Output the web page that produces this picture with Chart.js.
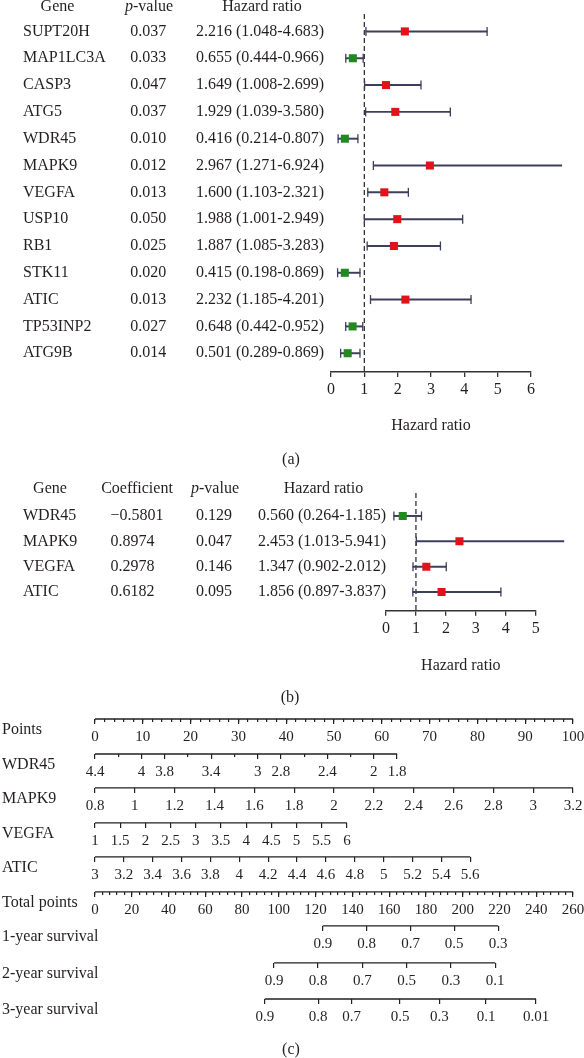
<!DOCTYPE html>
<html>
<head>
<meta charset="utf-8">
<script src="https://cdn.jsdelivr.net/npm/chart.js@4.4.1/dist/chart.umd.min.js"></script>
<style>
  body { margin: 0; background: #fff; }
  #figure { position: relative; width: 584px; height: 1058px; overflow: hidden; }
  #figure canvas { position: absolute; left: 0; }
</style>
</head>
<body>
<div id="figure">
  <canvas id="forestA" width="584" height="475" style="top:0"></canvas>
  <canvas id="forestB" width="584" height="233" style="top:472px"></canvas>
  <canvas id="nomogram" width="584" height="353" style="top:705px"></canvas>
</div>
<script>
// (a) univariate Cox regression
const genesA = ['SUPT20H', 'MAP1LC3A', 'CASP3', 'ATG5', 'WDR45', 'MAPK9', 'VEGFA', 'USP10', 'RB1', 'STK11', 'ATIC', 'TP53INP2', 'ATG9B'];
const pValuesA = ['0.037', '0.033', '0.047', '0.037', '0.010', '0.012', '0.013', '0.050', '0.025', '0.020', '0.013', '0.027', '0.014'];
const hrA = [2.216, 0.655, 1.649, 1.929, 0.416, 2.967, 1.600, 1.988, 1.887, 0.415, 2.232, 0.648, 0.501];
const lowA = [1.048, 0.444, 1.008, 1.039, 0.214, 1.271, 1.103, 1.001, 1.085, 0.198, 1.185, 0.442, 0.289];
const highA = [4.683, 0.966, 2.699, 3.580, 0.807, 6.924, 2.321, 3.95, 3.283, 0.869, 4.201, 0.952, 0.869]; // USP10 whisker as drawn
const hrTextA = ['2.216 (1.048-4.683)', '0.655 (0.444-0.966)', '1.649 (1.008-2.699)', '1.929 (1.039-3.580)',
  '0.416 (0.214-0.807)', '2.967 (1.271-6.924)', '1.600 (1.103-2.321)', '1.988 (1.001-2.949)', '1.887 (1.085-3.283)',
  '0.415 (0.198-0.869)', '2.232 (1.185-4.201)', '0.648 (0.442-0.952)', '0.501 (0.289-0.869)'];
const xTicksA = [0, 1, 2, 3, 4, 5, 6];

// (b) multivariate Cox regression
const genesB = ['WDR45', 'MAPK9', 'VEGFA', 'ATIC'];
const coefB = ['\u22120.5801', '0.8974', '0.2978', '0.6182'];
const pValuesB = ['0.129', '0.047', '0.146', '0.095'];
const hrB = [0.560, 2.453, 1.347, 1.856];
const lowB = [0.264, 1.013, 0.902, 0.897];
const highB = [1.185, 5.941, 2.012, 3.837];
const hrTextB = ['0.560 (0.264-1.185)', '2.453 (1.013-5.941)', '1.347 (0.902-2.012)', '1.856 (0.897-3.837)'];
const xTicksB = [0, 1, 2, 3, 4, 5];

// (c) nomogram
const rowNames = ['Points', 'WDR45', 'MAPK9', 'VEGFA', 'ATIC', 'Total points', '1-year survival', '2-year survival', '3-year survival'];
const pointsTicks = [0, 10, 20, 30, 40, 50, 60, 70, 80, 90, 100];
const wdr45Ticks = [4.4, 4, 3.8, 3.4, 3, 2.8, 2.4, 2, 1.8];
const wdr45Minor = [4.2, 3.6, 3.2, 2.6, 2.2];
const wdr45Points = [0, 63.2];
const mapk9Ticks = [0.8, 1, 1.2, 1.4, 1.6, 1.8, 2, 2.2, 2.4, 2.6, 2.8, 3, 3.2];
const mapk9Points = [0, 100];
const vegfaTicks = [1, 1.5, 2, 2.5, 3, 3.5, 4, 4.5, 5, 5.5, 6];
const vegfaPoints = [0, 52.7];
const aticTicks = [3, 3.2, 3.4, 3.6, 3.8, 4, 4.2, 4.4, 4.6, 4.8, 5, 5.2, 5.4, 5.6];
const aticPoints = [0, 78.5];
const totalTicks = [0, 20, 40, 60, 80, 100, 120, 140, 160, 180, 200, 220, 240, 260];
const surv1Labels = ['0.9', '0.8', '0.7', '0.5', '0.3'];
const surv1Total = [123.9, 147.8, 171.7, 195.4, 219.3];
const surv2Labels = ['0.9', '0.8', '0.7', '0.5', '0.3', '0.1'];
const surv2Total = [97.4, 121.3, 145.4, 169.5, 193.6, 217.7];
const surv3Labels = ['0.9', '0.8', '0.7', '0.5', '0.3', '0.1', '0.01'];
const surv3Total = [92.4, 121.4, 139.6, 165.9, 187.3, 212.7, 239.9];

// layout / style
const SERIF = '"Liberation Serif", "Times New Roman", serif';
const INK = '#231f20';
const RED = '#e2121b';
const GREEN = '#22881f';
const WHISKER = '#3c3f5c';
const AXIS = '#333333';
const rowPos = [0, 1, 1.97, 2.97, 3.94, 4.94, 5.91, 6.97, 8];

Chart.defaults.font.family = SERIF;
Chart.defaults.color = INK;

function drawRuns(ctx, runs, x, y, align, size) {
  let width = 0;
  runs.forEach(r => {
    ctx.font = (r[1] ? 'italic ' : '') + size + 'px ' + SERIF;
    width += ctx.measureText(r[0]).width;
  });
  let cx = align === 'center' ? x - width / 2 : (align === 'right' ? x - width : x);
  ctx.textAlign = 'left';
  runs.forEach(r => {
    ctx.font = (r[1] ? 'italic ' : '') + size + 'px ' + SERIF;
    ctx.fillText(r[0], cx, y);
    cx += ctx.measureText(r[0]).width;
  });
}

// draws table columns / captions, rows follow the chart's y scale
function textLayer(items) {
  return {
    id: 'textLayer',
    afterDraw(chart) {
      const ctx = chart.ctx;
      const yScale = chart.scales.y;
      ctx.save();
      ctx.fillStyle = INK;
      ctx.textBaseline = 'middle';
      items.forEach(it => {
        const y = it.row !== undefined ? yScale.getPixelForValue(it.row) + (it.dy || 0) : it.y;
        drawRuns(ctx, it.runs, it.x, y, it.align || 'left', it.size || 16);
      });
      ctx.restore();
    }
  };
}

function column(values, x, align) {
  return values.map((v, i) => ({ runs: [[v]], x: x, row: i, align: align }));
}

function forestChart(canvasId, d) {
  return new Chart(document.getElementById(canvasId), {
    type: 'scatter',
    data: {
      datasets: [
        {
          // hazard ratio squares
          type: 'scatter', order: 0,
          data: d.hr.map((v, i) => ({ x: v, y: i })),
          pointStyle: 'rect', pointRadius: 5.7, pointHoverRadius: 5.7,
          pointBackgroundColor: d.hr.map(v => v > 1 ? RED : GREEN),
          pointBorderWidth: 0
        },
        {
          // whisker caps
          type: 'scatter', order: 1, clip: false,
          data: d.low.flatMap((lo, i) => [{ x: lo, y: i }, { x: d.high[i], y: i }]),
          pointStyle: 'line', pointRotation: 90, pointRadius: 4.5, pointHoverRadius: 4.5,
          pointBorderColor: WHISKER, pointBorderWidth: 1.3
        },
        {
          // confidence intervals
          type: 'bar', order: 2, indexAxis: 'y', clip: false,
          data: d.low.map((lo, i) => ({ x: [lo, d.high[i]], y: i })),
          barThickness: 1.3, backgroundColor: WHISKER, borderWidth: 0
        },
        {
          // reference line at HR = 1
          type: 'line', order: 3,
          data: [{ x: 1, y: d.yMin }, { x: 1, y: d.yMax }],
          borderColor: AXIS, borderWidth: 1.3, borderDash: [5, 3], pointRadius: 0
        }
      ]
    },
    options: {
      responsive: false,
      animation: false,
      events: [],
      layout: { padding: d.padding },
      plugins: { legend: { display: false }, tooltip: { enabled: false } },
      scales: {
        x: {
          type: 'linear', min: 0, max: d.xTicks[d.xTicks.length - 1], offset: false, bounds: 'data',
          afterBuildTicks: ax => { ax.ticks = d.xTicks.map(v => ({ value: v })); },
          ticks: { autoSkip: false, maxRotation: 0, padding: 3, color: INK, font: { size: 16 },
            callback: (v, i) => String(d.xTicks[i]) },
          grid: { display: true, drawOnChartArea: false, drawTicks: true, tickLength: 5, color: AXIS, lineWidth: 1.3, offset: false },
          border: { display: true, color: AXIS, width: 1.5 },
          title: { display: true, text: 'Hazard ratio', color: INK, font: { size: 16 }, padding: { top: d.titlePad, bottom: 0 } }
        },
        y: { type: 'linear', reverse: true, min: d.yMin, max: d.yMax, offset: false, display: false }
      }
    },
    plugins: [textLayer(d.text)]
  });
}

forestChart('forestA', {
  hr: hrA, low: lowA, high: highA, xTicks: xTicksA,
  yMin: -0.65, yMax: 12.7, titlePad: 14.2,
  padding: { left: 331, right: 53, top: 14, bottom: 39.4 },
  text: [
    { runs: [['Gene']], x: 57.5, y: 7, align: 'center' },
    { runs: [['p', true], ['-value']], x: 149, y: 7, align: 'center' },
    { runs: [['Hazard ratio']], x: 262, y: 7, align: 'center' },
    ...column(genesA, 23, 'left'),
    ...column(pValuesA, 148.3, 'center'),
    ...column(hrTextA, 196, 'left'),
    { runs: [['(a)']], x: 291, y: 460, align: 'center' }
  ]
});

forestChart('forestB', {
  hr: hrB, low: lowB, high: highB, xTicks: xTicksB,
  yMin: -0.906, yMax: 3.736, titlePad: 15.5,
  padding: { left: 386, right: 48.3, top: 21, bottom: 29.4 },
  text: [
    { runs: [['Gene']], x: 50, y: 17, align: 'center' },
    { runs: [['Coefficient']], x: 137, y: 17, align: 'center' },
    { runs: [['p', true], ['-value']], x: 215, y: 17, align: 'center' },
    { runs: [['Hazard ratio']], x: 323.5, y: 17, align: 'center' },
    ...column(genesB, 23, 'left'),
    ...column(coefB, 110.5, 'left'),
    ...column(pValuesB, 214, 'center'),
    ...column(hrTextB, 258, 'left'),
    { runs: [['(b)']], x: 290, y: 226, align: 'center' }
  ]
});

// value range of a variable axis across the full 0-100 points span
function pointSpan(ticks, points) {
  const v0 = ticks[0], v1 = ticks[ticks.length - 1];
  const slope = (v1 - v0) / (points[1] - points[0]);
  const a = v0 - slope * points[0];
  const b = v0 + slope * (100 - points[0]);
  return { min: Math.min(a, b), max: Math.max(a, b), reverse: a > b };
}

function everyStep(from, to, step) {
  const out = [];
  for (let v = from; v <= to + 1e-9; v += step) out.push(Math.round(v * 1000) / 1000);
  return out;
}

const nomoRows = [
  { id: 'xPoints', row: 0, min: 0, max: 100, ticks: pointsTicks, labels: pointsTicks.map(String), minor: everyStep(0, 100, 2) },
  { id: 'xWdr45', row: 1, ...pointSpan(wdr45Ticks, wdr45Points), ticks: wdr45Ticks, labels: wdr45Ticks.map(String), minor: wdr45Minor },
  { id: 'xMapk9', row: 2, ...pointSpan(mapk9Ticks, mapk9Points), ticks: mapk9Ticks, labels: mapk9Ticks.map(String) },
  { id: 'xVegfa', row: 3, ...pointSpan(vegfaTicks, vegfaPoints), ticks: vegfaTicks, labels: vegfaTicks.map(String) },
  { id: 'xAtic', row: 4, ...pointSpan(aticTicks, aticPoints), ticks: aticTicks, labels: aticTicks.map(String) },
  { id: 'xTotal', row: 5, min: 0, max: 260, ticks: totalTicks, labels: totalTicks.map(String), minor: everyStep(0, 260, 4) },
  { id: 'xSurv1', row: 6, min: 0, max: 260, ticks: surv1Total, labels: surv1Labels },
  { id: 'xSurv2', row: 7, min: 0, max: 260, ticks: surv2Total, labels: surv2Labels },
  { id: 'xSurv3', row: 8, min: 0, max: 260, ticks: surv3Total, labels: surv3Labels }
];

function nomoScale(r, ticks, labels, tickLength) {
  return {
    type: 'linear', axis: 'x', position: { y: rowPos[r.row] },
    min: r.min, max: r.max, reverse: !!r.reverse, bounds: 'data', offset: false,
    afterBuildTicks: ax => { ax.ticks = ticks.map(v => ({ value: v })); },
    afterFit: ax => { ax.paddingLeft = 0; ax.paddingRight = 0; },
    ticks: {
      display: !!labels, autoSkip: false, maxRotation: 0, padding: 4.5, color: INK,
      font: { size: 15 }, callback: (v, i) => labels ? labels[i] : ''
    },
    grid: { display: true, drawOnChartArea: false, drawTicks: true, tickLength: tickLength, color: INK, lineWidth: 1.2 },
    border: { display: false }
  };
}

const nomoScales = {
  y: { type: 'linear', reverse: true, min: -0.4, max: -0.4 + 353 / 35, offset: false, display: false }
};
nomoRows.forEach(r => {
  nomoScales[r.id] = nomoScale(r, r.ticks, r.labels, 5);
  if (r.minor) nomoScales[r.id + 'Minor'] = nomoScale(r, r.minor, null, 3);
});

const nomoLines = nomoRows.map(r => ({
  type: 'line', xAxisID: r.id, yAxisID: 'y',
  data: [{ x: r.ticks[0], y: rowPos[r.row] }, { x: r.ticks[r.ticks.length - 1], y: rowPos[r.row] }],
  borderColor: INK, borderWidth: 1.3, pointRadius: 0
}));

new Chart(document.getElementById('nomogram'), {
  type: 'line',
  data: { datasets: nomoLines },
  options: {
    responsive: false,
    animation: false,
    events: [],
    layout: { padding: { left: 95, right: 11, top: 0, bottom: 0 } },
    plugins: { legend: { display: false }, tooltip: { enabled: false } },
    scales: nomoScales
  },
  plugins: [textLayer([
    ...rowNames.map((name, i) => ({ runs: [[name]], x: 2, row: rowPos[i], dy: 11 })),
    { runs: [['(c)']], x: 291, y: 345, align: 'center' }
  ])]
});
</script>
</body>
</html>
